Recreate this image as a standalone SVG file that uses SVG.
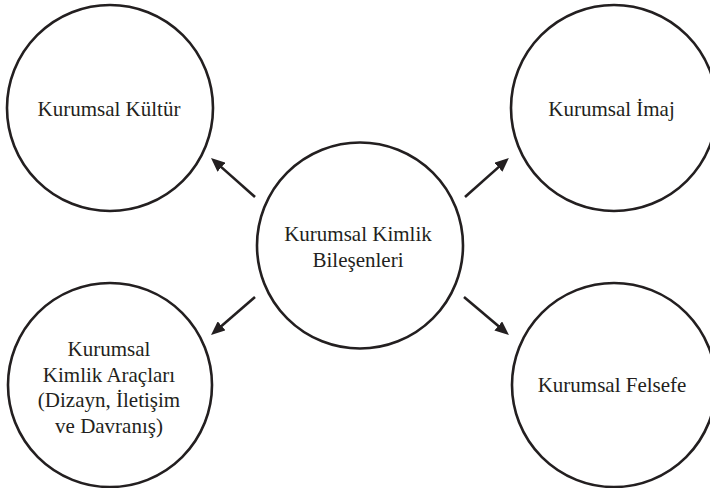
<svg xmlns="http://www.w3.org/2000/svg" width="710" height="488" viewBox="0 0 710 488">
  <style>
    .node circle { fill: #ffffff; stroke: #231f20; stroke-width: 2.6; }
    .node text { font-family: "Liberation Serif", "Times New Roman", serif; font-size: 21px; fill: #231f20; text-anchor: middle; }
    .edges line { stroke: #231f20; stroke-width: 2.6; marker-end: url(#head); }
  </style>
  <defs>
    <marker id="head" viewBox="0 0 14 12" refX="4" refY="6" markerWidth="14" markerHeight="12" markerUnits="userSpaceOnUse" orient="auto">
      <path d="M0,0 L14,6 L0,12 Z" fill="#231f20"/>
    </marker>
  </defs>
  <rect width="710" height="488" fill="#ffffff"/>

  <g id="kultur" class="node">
    <circle cx="110" cy="108" r="103"/>
    <text x="109" y="115.5">Kurumsal Kültür</text>
  </g>

  <g id="imaj" class="node">
    <circle cx="614" cy="108" r="103"/>
    <text x="611.5" y="116">Kurumsal İmaj</text>
  </g>

  <g id="bilesenler" class="node">
    <circle cx="360" cy="245.5" r="103"/>
    <text x="358" y="240.7">Kurumsal Kimlik</text>
    <text x="358" y="266.7">Bileşenleri</text>
  </g>

  <g id="araclar" class="node">
    <circle cx="110" cy="385" r="102"/>
    <text x="109" y="356">Kurumsal</text>
    <text x="109" y="381.5">Kimlik Araçları</text>
    <text x="109" y="407">(Dizayn, İletişim</text>
    <text x="109" y="432.5">ve Davranış)</text>
  </g>

  <g id="felsefe" class="node">
    <circle cx="614" cy="385" r="102"/>
    <text x="612" y="392">Kurumsal Felsefe</text>
  </g>

  <g id="connectors" class="edges">
    <line x1="255" y1="197" x2="218.5" y2="164.6"/>
    <line x1="465" y1="197" x2="501.4" y2="164.6"/>
    <line x1="255" y1="297" x2="218.6" y2="328.5"/>
    <line x1="464" y1="297" x2="501.3" y2="328.6"/>
  </g>
</svg>
